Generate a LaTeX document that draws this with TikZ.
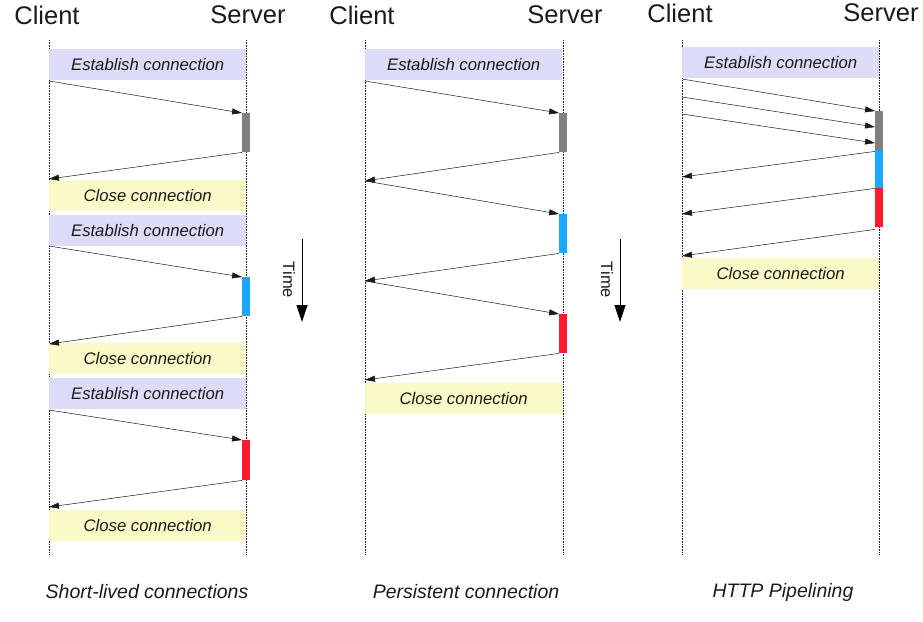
\documentclass[tikz,border=0pt]{standalone}
\usepackage{fontspec}
\setmainfont{Liberation Sans}
\usetikzlibrary{arrows.meta}
\definecolor{estc}{HTML}{DCDCF8}
\definecolor{clsc}{HTML}{FAFAC8}
\definecolor{grayb}{HTML}{808080}
\definecolor{blueb}{HTML}{1AA8FF}
\definecolor{redb}{HTML}{FF1A2E}
\definecolor{txt}{HTML}{1A1A1A}
\tikzset{
  lifeline/.style={densely dotted, line width=0.6pt, black!85},
  boxbase/.style={anchor=north west, inner sep=0pt, minimum width=197pt, minimum height=31pt,
                  text=txt, font=\fontsize{16.7}{18}\selectfont\itshape},
  estbox/.style={boxbase, fill=estc},
  clsbox/.style={boxbase, fill=clsc},
  bar/.style={anchor=north, inner sep=0pt, minimum width=7.5pt},
  msg/.style={line width=0.5pt, black!90, -{Triangle[length=10pt,width=6pt]}},
  head/.style={font=\fontsize{25.5}{28}\selectfont, text=txt},
  caption/.style={font=\fontsize{19.5}{22}\selectfont\itshape, text=txt},
  timearrow/.style={line width=0.8pt, -{Triangle[length=17pt,width=11pt]}},
  timelabel/.style={rotate=-90, font=\fontsize{16.5}{18}\selectfont, text=txt}
}
\begin{document}
\begin{tikzpicture}[x=1pt,y=-1pt]
\useasboundingbox (0,0) rectangle (923,621);

% ---------- Panel 1: Short-lived connections ----------
\node[head] (c1h) at (47,15) {Client};
\node[head] (s1h) at (248,15) {Server};
\draw[lifeline] (49,40) coordinate (c1top) -- (49,555) coordinate (c1bot);
\draw[lifeline] (246,40) coordinate (s1top) -- (246,555) coordinate (s1bot);

\node[estbox] (e11) at (49,49) {Establish connection};
\node[bar, fill=grayb, minimum height=39pt] (b11) at (246,113) {};
\node[clsbox] (k11) at (49,180) {Close connection};
\coordinate (p11a) at (49,81);
\coordinate (p11b) at (49,179);
\draw[msg] (p11a) -- (b11.north west);
\draw[msg] (b11.south west) -- (p11b);

\node[estbox] (e12) at (49,215) {Establish connection};
\node[bar, fill=blueb, minimum height=39pt] (b12) at (246,277) {};
\node[clsbox] (k12) at (49,343) {Close connection};
\coordinate (p12a) at (49,246);
\coordinate (p12b) at (49,344);
\draw[msg] (p12a) -- (b12.north west);
\draw[msg] (b12.south west) -- (p12b);

\node[estbox] (e13) at (49,378) {Establish connection};
\node[bar, fill=redb, minimum height=40pt] (b13) at (246,440) {};
\node[clsbox] (k13) at (49,510) {Close connection};
\coordinate (p13a) at (49,410);
\coordinate (p13b) at (49,507);
\draw[msg] (p13a) -- (b13.north west);
\draw[msg] (b13.south west) -- (p13b);

\node[caption] (cap1) at (147,592) {Short-lived connections};

% time arrow 1
\coordinate (t1a) at (302,239);
\coordinate (t1b) at (302,322);
\draw[timearrow] (t1a) -- (t1b);
\node[timelabel] (t1l) at (289,280) {Time};

% ---------- Panel 2: Persistent connection ----------
\node[head] (c2h) at (362,15) {Client};
\node[head] (s2h) at (565,15) {Server};
\draw[lifeline] (365,40) coordinate (c2top) -- (365,555) coordinate (c2bot);
\draw[lifeline] (563,40) coordinate (s2top) -- (563,555) coordinate (s2bot);

\node[estbox] (e21) at (365,49) {Establish connection};
\node[bar, fill=grayb, minimum height=39pt] (b21) at (563,113) {};
\node[bar, fill=blueb, minimum height=39pt] (b22) at (563,214) {};
\node[bar, fill=redb, minimum height=39pt] (b23) at (563,314) {};
\node[clsbox] (k21) at (365,383) {Close connection};
\coordinate (p21) at (365,81);
\coordinate (p22) at (365,181);
\coordinate (p23) at (365,281);
\coordinate (p24) at (365,380);
\draw[msg] (p21) -- (b21.north west);
\draw[msg] (b21.south west) -- (p22);
\draw[msg] (p22) -- (b22.north west);
\draw[msg] (b22.south west) -- (p23);
\draw[msg] (p23) -- (b23.north west);
\draw[msg] (b23.south west) -- (p24);

\node[caption] (cap2) at (466,592) {Persistent connection};

% time arrow 2
\coordinate (t2a) at (620,239);
\coordinate (t2b) at (620,322);
\draw[timearrow] (t2a) -- (t2b);
\node[timelabel] (t2l) at (607,280) {Time};

% ---------- Panel 3: HTTP Pipelining ----------
\node[head] (c3h) at (680,13) {Client};
\node[head] (s3h) at (881,13) {Server};
\draw[lifeline] (682,40) coordinate (c3top) -- (682,555) coordinate (c3bot);
\draw[lifeline] (879,40) coordinate (s3top) -- (879,555) coordinate (s3bot);

\node[estbox] (e31) at (682,47) {Establish connection};
\node[bar, fill=grayb, minimum height=39pt] (b31) at (879,111) {};
\node[bar, fill=blueb, minimum height=38pt] (b32) at (879,150) {};
\node[bar, fill=redb, minimum height=39pt] (b33) at (879,188) {};
\node[clsbox] (k31) at (682,258) {Close connection};
\coordinate (q1) at (682,79);
\coordinate (q2) at (682,97);
\coordinate (q3) at (682,114);
\coordinate (r1) at (682,177);
\coordinate (r2) at (682,214);
\coordinate (r3) at (682,256);
\draw[msg] (q1) -- (b31.north west);
\draw[msg] (q2) -- ([yshift=-16pt]b31.north west);
\draw[msg] (q3) -- ([yshift=-32pt]b31.north west);
\draw[msg] ([yshift=-1pt]b31.south west) -- (r1);
\draw[msg] (b32.south west) -- (r2);
\draw[msg] ([yshift=-2pt]b33.south west) -- (r3);

\node[caption] (cap3) at (783,592) {HTTP Pipelining};
\end{tikzpicture}
\end{document}
